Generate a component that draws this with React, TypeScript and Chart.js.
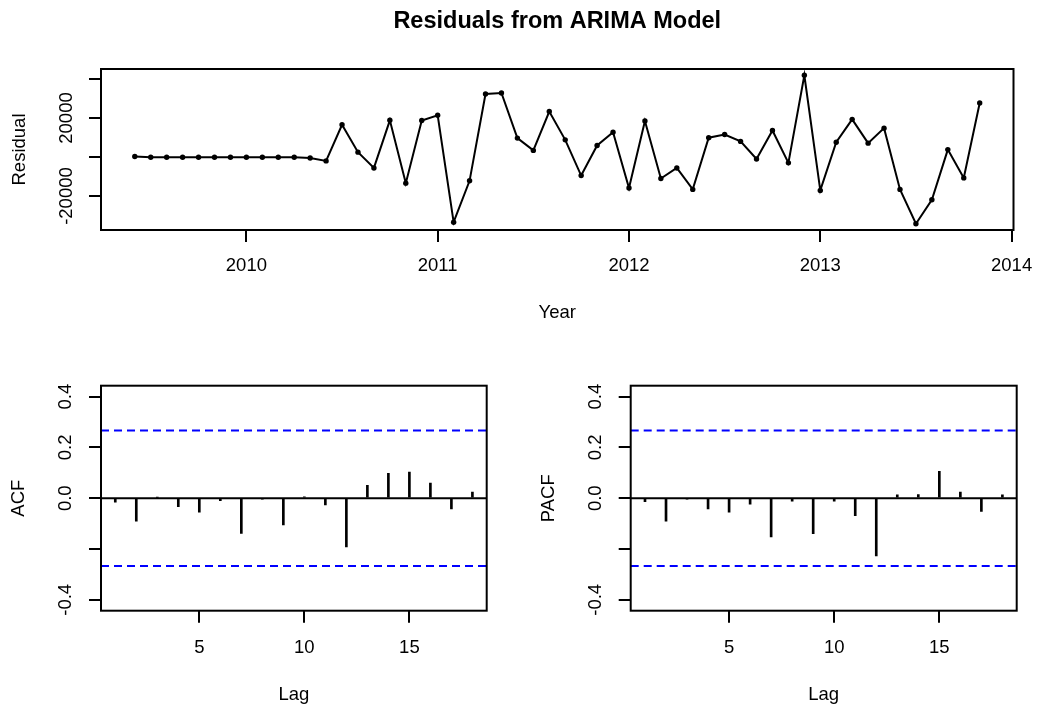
import React, { useEffect, useRef } from "react";
import { Chart, registerables } from "chart.js";

Chart.register(...registerables);

const FONT = "'Liberation Sans', Arial, Helvetica, sans-serif";
const TEXT_SIZE = 18.5;

// Monthly residuals of the fitted ARIMA model, starting June 2009
const startYear = 2009;
const startMonth = 6;
const residuals = [
  300, -100, -100, -100, -100, -100, -100, -100, -100, -100, -100, -500,
  -2000, 16500, 2500, -5600, 18800, -13400, 18700, 21400, -33400, -12200,
  32300, 32800, 9700, 3400, 23300, 8800, -9500, 5900, 12700, -15900, 18500,
  -11000, -5600, -16600, 9900, 11500, 8000, -1000, 13600, -3000, 41900,
  -17100, 7600, 19300, 7100, 14800, -16600, -34200, -21900, 3800, -10700,
  27700,
];
const yearTicks = [2010, 2011, 2012, 2013, 2014];
const residualTicks = [-20000, 0, 20000, 40000];
const residualTickLabels = [-20000, 20000];

// Autocorrelations of the residuals by lag
const lags = [1, 2, 3, 4, 5, 6, 7, 8, 9, 10, 11, 12, 13, 14, 15, 16, 17, 18];
const acfValues = [
  -0.016, -0.09, 0.003, -0.033, -0.055, -0.01, -0.139, -0.002, -0.105, 0.005,
  -0.026, -0.192, 0.051, 0.098, 0.103, 0.06, -0.042, 0.024,
];
const pacfValues = [
  -0.014, -0.09, -0.002, -0.042, -0.055, -0.024, -0.152, -0.012, -0.14,
  -0.012, -0.069, -0.227, 0.013, 0.014, 0.106, 0.024, -0.052, 0.013,
];
const lagTicks = [5, 10, 15];
const corrTicks = [-0.4, -0.2, 0, 0.2, 0.4];
const corrTickLabels = [-0.4, 0, 0.2, 0.4];

// 95% white-noise bounds for a series of this length
const ciBound = 1.96 / Math.sqrt(residuals.length);

const font = (size = TEXT_SIZE, weight: string = "normal") => ({
  family: FONT,
  size,
  weight,
});

// Box around the plotting region plus y tick labels written along the axis
const rFrame = {
  id: "rFrame",
  afterDraw(chart: any, _args: any, opts: any) {
    const { ctx, chartArea: a } = chart;
    const yScale = chart.scales.y;
    ctx.save();
    ctx.strokeStyle = "#000";
    ctx.lineWidth = 2;
    ctx.strokeRect(a.left, a.top, a.right - a.left, a.bottom - a.top);
    ctx.fillStyle = "#000";
    ctx.font = `${TEXT_SIZE}px ${FONT}`;
    ctx.textAlign = "center";
    ctx.textBaseline = "middle";
    const values: number[] = opts.values || [];
    const texts: string[] = opts.texts || [];
    values.forEach((v, i) => {
      const py = yScale.getPixelForValue(v);
      ctx.save();
      ctx.translate(opts.x, py);
      ctx.rotate(-Math.PI / 2);
      ctx.fillText(texts[i], 0, 0);
      ctx.restore();
    });
    ctx.restore();
  },
};

const tickGrid = {
  drawOnChartArea: false,
  drawTicks: true,
  tickLength: 12,
  color: "#000",
  lineWidth: 2,
  offset: false,
};

// Fixed axis thickness, with no extra room reserved for edge labels
const fixHeight = (h: number) => (s: any) => {
  s.height = h;
  s.paddingLeft = 0;
  s.paddingRight = 0;
};
const fixWidth = (w: number) => (s: any) => {
  s.width = w;
  s.paddingTop = 0;
  s.paddingBottom = 0;
};

function residualConfig(): any {
  const points = residuals.map((v, i) => ({
    x: startYear + (startMonth - 1 + i) / 12,
    y: v,
  }));
  return {
    type: "line",
    data: {
      datasets: [
        {
          data: points,
          borderColor: "#000",
          borderWidth: 2,
          pointRadius: 2.7,
          pointBackgroundColor: "#000",
          pointBorderWidth: 0,
          tension: 0,
        },
      ],
    },
    plugins: [rFrame],
    options: {
      responsive: false,
      animation: false,
      events: [],
      layout: { padding: { left: 0, right: 24.5, top: 0, bottom: 0 } },
      plugins: {
        legend: { display: false },
        tooltip: { enabled: false },
        title: {
          display: true,
          fullSize: false,
          text: "Residuals from ARIMA Model",
          color: "#000",
          font: font(23.5, "bold"),
          padding: { top: 7, bottom: 33.8 },
        },
        rFrame: {
          x: 67,
          values: residualTickLabels,
          texts: residualTickLabels.map((v) => String(v)),
        },
      },
      scales: {
        x: {
          type: "linear",
          min: 2009.24,
          max: 2014.01,
          offset: false,
          afterBuildTicks: (s: any) => {
            s.ticks = yearTicks.map((value) => ({ value }));
          },
          afterFit: fixHeight(115),
          grid: tickGrid,
          border: { display: false },
          ticks: {
            color: "#000",
            font: font(),
            padding: 13,
            maxRotation: 0,
            autoSkip: false,
            callback: (v: any) => String(v),
          },
          title: {
            display: true,
            text: "Year",
            color: "#000",
            font: font(),
            padding: { top: 0, bottom: 20.9 },
          },
        },
        y: {
          type: "linear",
          min: -37400,
          max: 45100,
          afterBuildTicks: (s: any) => {
            s.ticks = residualTicks.map((value) => ({ value }));
          },
          afterFit: fixWidth(101),
          grid: tickGrid,
          border: { display: false },
          ticks: { display: false },
          title: {
            display: true,
            text: "Residual",
            color: "#000",
            font: font(),
            padding: { top: 8.9, bottom: 0 },
          },
        },
      },
    },
  };
}

function correlogramConfig(
  values: number[],
  yTitle: string,
  yAxisWidth: number,
  rightPad: number
): any {
  const xMin = 0.32;
  const xMax = 18.68;
  const hLine = (y: number, color: string, dash: number[]) => ({
    type: "line",
    data: [
      { x: xMin, y },
      { x: xMax, y },
    ],
    borderColor: color,
    borderWidth: 2,
    borderDash: dash,
    pointRadius: 0,
    tension: 0,
  });
  return {
    type: "bar",
    data: {
      datasets: [
        {
          type: "bar",
          data: lags.map((l, i) => ({ x: l, y: values[i] })),
          backgroundColor: "#000",
          borderWidth: 0,
          barThickness: 2,
        },
        hLine(0, "#000", []),
        hLine(ciBound, "#0000ff", [8, 5]),
        hLine(-ciBound, "#0000ff", [8, 5]),
      ],
    },
    plugins: [rFrame],
    options: {
      responsive: false,
      animation: false,
      events: [],
      layout: { padding: { left: 0, right: rightPad, top: 40.7, bottom: 0 } },
      plugins: {
        legend: { display: false },
        tooltip: { enabled: false },
        rFrame: {
          x: 65.5,
          values: corrTickLabels,
          texts: corrTickLabels.map((v) => v.toFixed(1)),
        },
      },
      scales: {
        x: {
          type: "linear",
          min: xMin,
          max: xMax,
          offset: false,
          afterBuildTicks: (s: any) => {
            s.ticks = lagTicks.map((value) => ({ value }));
          },
          afterFit: fixHeight(97.3),
          grid: tickGrid,
          border: { display: false },
          ticks: {
            color: "#000",
            font: font(),
            padding: 14.5,
            maxRotation: 0,
            autoSkip: false,
            callback: (v: any) => String(v),
          },
          title: {
            display: true,
            text: "Lag",
            color: "#000",
            font: font(),
            padding: { top: 0, bottom: 1.9 },
          },
        },
        y: {
          type: "linear",
          min: -0.443,
          max: 0.443,
          afterBuildTicks: (s: any) => {
            s.ticks = corrTicks.map((value) => ({ value }));
          },
          afterFit: fixWidth(yAxisWidth),
          grid: tickGrid,
          border: { display: false },
          ticks: { display: false },
          title: {
            display: true,
            text: yTitle,
            color: "#000",
            font: font(),
            padding: { top: 8.3, bottom: 0 },
          },
        },
      },
    },
  };
}

function ChartCanvas(props: {
  config: () => any;
  left: number;
  top: number;
  width: number;
  height: number;
}) {
  const ref = useRef<HTMLCanvasElement | null>(null);
  useEffect(() => {
    if (!ref.current) return;
    const chart = new Chart(ref.current, props.config());
    return () => chart.destroy();
  }, []);
  return (
    <canvas
      ref={ref}
      width={props.width}
      height={props.height}
      style={{
        position: "absolute",
        left: props.left,
        top: props.top,
        width: props.width,
        height: props.height,
      }}
    />
  );
}

export default function App() {
  return (
    <div
      style={{
        position: "absolute",
        left: 0,
        top: 0,
        width: 1038,
        height: 708,
        background: "#fff",
        overflow: "hidden",
      }}
    >
      <ChartCanvas config={residualConfig} left={0} top={0} width={1038} height={345} />
      <ChartCanvas
        config={() => correlogramConfig(acfValues, "ACF", 101, 43.3)}
        left={0}
        top={345}
        width={530}
        height={363}
      />
      <ChartCanvas
        config={() => correlogramConfig(pacfValues, "PACF", 100.7, 21.3)}
        left={530}
        top={345}
        width={508}
        height={363}
      />
    </div>
  );
}
